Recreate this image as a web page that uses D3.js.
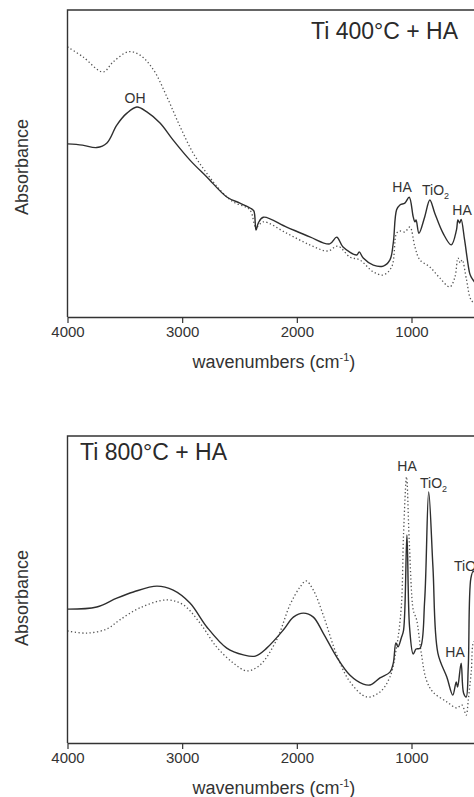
<!DOCTYPE html>
<html>
<head>
<meta charset="utf-8">
<script src="https://cdn.jsdelivr.net/npm/d3@7"></script>
<style>
  html, body { margin: 0; padding: 0; background: #fff; overflow: hidden; }
  svg { display: block; font-family: "Liberation Sans", Arial, sans-serif; }
</style>
</head>
<body>
<div id="chart"></div>
<script>
// FTIR spectra, values: [wavenumber, absorbance (a.u.)]
const xTicks = [4000, 3000, 2000, 1000];

const ti400Solid = [
  [4000, 0.564], [3870, 0.560], [3745, 0.552], [3656, 0.567], [3570, 0.625], [3482, 0.664],
  [3395, 0.684], [3308, 0.668], [3193, 0.632], [3080, 0.577], [2932, 0.511], [2785, 0.456],
  [2611, 0.391], [2497, 0.371], [2394, 0.352], [2374, 0.345], [2356, 0.283], [2336, 0.306],
  [2292, 0.325], [2089, 0.293], [1887, 0.261], [1713, 0.238], [1652, 0.260], [1597, 0.228],
  [1478, 0.202], [1456, 0.212], [1421, 0.192], [1333, 0.169], [1246, 0.166], [1188, 0.186],
  [1159, 0.241], [1130, 0.349], [1101, 0.365], [1058, 0.371], [1020, 0.390], [985, 0.326],
  [970, 0.310], [960, 0.316], [935, 0.273], [885, 0.326], [840, 0.381], [797, 0.338],
  [725, 0.273], [653, 0.235], [608, 0.283], [595, 0.316], [580, 0.306], [567, 0.318],
  [537, 0.251], [493, 0.143], [479, 0.130], [400, 0.090]
];

const ti400Dotted = [
  [4000, 0.880], [3864, 0.847], [3690, 0.798], [3602, 0.831], [3468, 0.864], [3367, 0.853],
  [3250, 0.805], [3133, 0.717], [3018, 0.620], [2903, 0.533], [2785, 0.468], [2670, 0.414],
  [2555, 0.375], [2410, 0.349], [2356, 0.293], [2292, 0.310], [2089, 0.273], [1887, 0.235],
  [1730, 0.215], [1643, 0.231], [1536, 0.195], [1451, 0.186], [1333, 0.147], [1246, 0.137],
  [1173, 0.163], [1130, 0.273], [1101, 0.280], [1058, 0.277], [1014, 0.293], [970, 0.228],
  [927, 0.186], [840, 0.163], [753, 0.127], [666, 0.098], [621, 0.130], [595, 0.192],
  [575, 0.176], [558, 0.186], [520, 0.121], [479, 0.055], [400, 0.030]
];

const ti800Solid = [
  [4000, 0.436], [3745, 0.443], [3570, 0.472], [3425, 0.492], [3220, 0.511], [3078, 0.498],
  [2932, 0.456], [2785, 0.378], [2611, 0.309], [2466, 0.287], [2362, 0.283], [2263, 0.309],
  [2118, 0.368], [2030, 0.410], [1943, 0.423], [1856, 0.410], [1770, 0.358], [1652, 0.280],
  [1536, 0.221], [1420, 0.192], [1362, 0.189], [1275, 0.212], [1188, 0.231], [1159, 0.260],
  [1136, 0.326], [1118, 0.313], [1089, 0.342], [1069, 0.368], [1040, 0.678], [1017, 0.378],
  [985, 0.290], [960, 0.306], [925, 0.309], [885, 0.466], [850, 0.818], [813, 0.573],
  [770, 0.293], [692, 0.215], [640, 0.156], [610, 0.199], [598, 0.182], [567, 0.260],
  [546, 0.163], [523, 0.150], [505, 0.248], [482, 0.537], [460, 0.560], [400, 0.400]
];

const ti800Dotted = [
  [4000, 0.365], [3835, 0.358], [3660, 0.371], [3544, 0.401], [3370, 0.440], [3135, 0.466],
  [2990, 0.450], [2845, 0.391], [2700, 0.313], [2555, 0.261], [2437, 0.235], [2321, 0.254],
  [2176, 0.336], [2060, 0.450], [1972, 0.508], [1920, 0.528], [1856, 0.498], [1770, 0.417],
  [1652, 0.287], [1536, 0.199], [1391, 0.150], [1275, 0.166], [1188, 0.215], [1130, 0.313],
  [1089, 0.443], [1069, 0.684], [1043, 0.867], [1020, 0.661], [985, 0.433], [970, 0.417],
  [955, 0.401], [915, 0.293], [870, 0.205], [813, 0.166], [692, 0.134], [605, 0.114],
  [561, 0.124], [523, 0.091], [505, 0.140], [479, 0.231], [455, 0.330], [400, 0.300]
];

const panels = [
  {
    top: 10, bottom: 317, solid: ti400Solid, dotted: ti400Dotted,
    title: "Ti 400°C + HA", titleX: 458, titleY: 39, titleAnchor: "end", ylabelY: 167,
    labels: [
      { t: "OH", x: 135, y: 103 },
      { t: "HA", x: 402, y: 192 },
      { t: "TiO", sub: "2", x: 422, y: 195, anchor: "start" },
      { t: "HA", x: 462, y: 215 }
    ]
  },
  {
    top: 436, bottom: 743, solid: ti800Solid, dotted: ti800Dotted,
    title: "Ti 800°C + HA", titleX: 80, titleY: 460, titleAnchor: "start", ylabelY: 598,
    labels: [
      { t: "HA", x: 407, y: 471 },
      { t: "TiO", sub: "2", x: 420, y: 488, anchor: "start" },
      { t: "TiO", sub: "2", x: 454, y: 571, anchor: "start" },
      { t: "HA", x: 455, y: 657 }
    ]
  }
];

const width = 474, height = 797;
const svg = d3.select("#chart").append("svg")
  .attr("width", width)
  .attr("height", height);

const x = d3.scaleLinear().domain([4000, 400]).range([67.5, 480.3]);
const ink = "#333";

panels.forEach(p => {
  const y = d3.scaleLinear().domain([0, 1]).range([p.bottom, p.top]);
  const g = svg.append("g");

  const line = d3.line()
    .x(d => x(d[0]))
    .y(d => y(d[1]))
    .curve(d3.curveCatmullRom.alpha(0.5));

  g.append("path")
    .datum(p.dotted)
    .attr("fill", "none")
    .attr("stroke", "#555")
    .attr("stroke-width", 1.3)
    .attr("stroke-dasharray", "1.3,2.4")
    .attr("d", line);

  g.append("path")
    .datum(p.solid)
    .attr("fill", "none")
    .attr("stroke", "#2e2e2e")
    .attr("stroke-width", 1.4)
    .attr("d", line);

  // frame: top and left borders
  g.append("path")
    .attr("fill", "none")
    .attr("stroke", ink)
    .attr("stroke-width", 1.4)
    .attr("d", `M${x.range()[0]},${p.bottom}V${p.top}H${x.range()[1]}`);

  const ax = g.append("g")
    .attr("transform", `translate(0,${p.bottom})`)
    .call(d3.axisBottom(x).tickValues(xTicks).tickFormat(d3.format("d"))
      .tickSize(6).tickSizeOuter(0).tickPadding(3));
  ax.select(".domain").attr("stroke", ink).attr("stroke-width", 1.4);
  ax.selectAll(".tick line").attr("stroke", ink).attr("stroke-width", 1.2);
  ax.selectAll(".tick text")
    .attr("fill", ink)
    .style("font-size", "15px")
    .style("font-family", "Liberation Sans, Arial, sans-serif");

  const xl = g.append("text")
    .attr("x", (x.range()[0] + x.range()[1]) / 2)
    .attr("y", p.bottom + 51)
    .attr("text-anchor", "middle")
    .attr("fill", ink)
    .style("font-size", "18px");
  xl.append("tspan").text("wavenumbers (cm");
  xl.append("tspan").attr("dy", -7).style("font-size", "11px").text("-1");
  xl.append("tspan").attr("dy", 7).text(")");

  g.append("text")
    .attr("transform", `translate(28,${p.ylabelY}) rotate(-90)`)
    .attr("text-anchor", "middle")
    .attr("fill", ink)
    .style("font-size", "18px")
    .text("Absorbance");

  g.append("text")
    .attr("x", p.titleX)
    .attr("y", p.titleY)
    .attr("text-anchor", p.titleAnchor)
    .attr("fill", "#2a2a2a")
    .style("font-size", "23px")
    .text(p.title);

  p.labels.forEach(l => {
    const t = g.append("text")
      .attr("x", l.x)
      .attr("y", l.y)
      .attr("text-anchor", l.anchor || "middle")
      .attr("fill", ink)
      .style("font-size", "14px");
    t.append("tspan").text(l.t);
    if (l.sub) {
      t.append("tspan").attr("dy", 4).style("font-size", "9px").text(l.sub);
    }
  });
});
</script>
</body>
</html>
